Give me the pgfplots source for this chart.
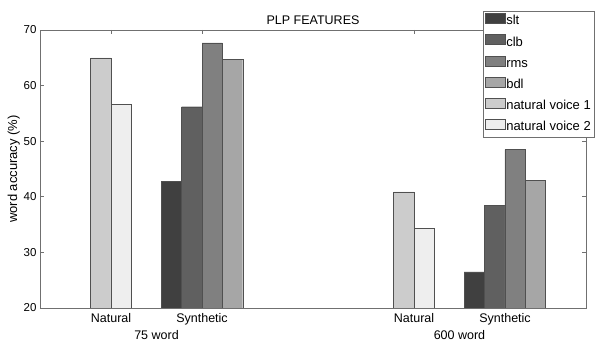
\documentclass[border=0pt]{standalone}
\usepackage{fontspec}
\setmainfont{Liberation Sans}
\usepackage{pgfplots}
\pgfplotsset{compat=1.18}
\definecolor{cslt}{HTML}{404040}
\definecolor{cclb}{HTML}{606060}
\definecolor{crms}{HTML}{808080}
\definecolor{cbdl}{HTML}{A6A6A6}
\definecolor{cnv1}{HTML}{CCCCCC}
\definecolor{cnv2}{HTML}{EEEEEE}
\definecolor{edge}{HTML}{505050}
\definecolor{axc}{HTML}{707070}
\begin{document}
\begin{tikzpicture}
\begin{axis}[
  scale only axis,
  width=546pt, height=278pt,
  xmin=40, xmax=586, ymin=20, ymax=70,
  clip mode=individual,
  ytick={20,30,40,50,60,70},
  xtick={111,202,414,505},
  xticklabels={Natural,Synthetic,Natural,Synthetic},
  tick align=inside,
  major tick length=4pt,
  axis line style={draw=axc, line width=0.6pt},
  tick style={draw=axc, line width=0.6pt},
  /pgf/number format/assume math mode=true,
  yticklabel style={font=\fontsize{11.5}{13}\selectfont},
  xticklabel style={font=\fontsize{12.5}{14}\selectfont, text height=9pt, yshift=-2pt},
  ylabel={word accuracy (\%)},
  ylabel style={font=\fontsize{13}{15}\selectfont, yshift=-3pt},
  title={PLP FEATURES},
  title style={font=\fontsize{12.5}{14}\selectfont, yshift=-4pt},
  legend cell align=left,
  legend style={at={(1.0147,1.068)}, anchor=north east, draw=axc,
    font=\fontsize{13}{15}\selectfont, row sep=5.5pt, inner sep=2pt,
    nodes={inner sep=1pt, text height=9pt, text depth=3pt}},
  legend image code/.code={\draw[#1, draw=edge] (0pt,-1.5pt) rectangle (20pt,8.5pt);},
]
\addplot[ybar, bar width=20.4, bar shift=0pt, fill=cslt, draw=edge] coordinates {(171.3,42.8) (474.2,26.5)};
\addplot[ybar, bar width=20.4, bar shift=0pt, fill=cclb, draw=edge] coordinates {(191.7,56.2) (494.6,38.5)};
\addplot[ybar, bar width=20.4, bar shift=0pt, fill=crms, draw=edge] coordinates {(212.2,67.7) (515.0,48.5)};
\addplot[ybar, bar width=20.4, bar shift=0pt, fill=cbdl, draw=edge] coordinates {(232.5,64.7) (535.4,42.9)};
\addplot[ybar, bar width=20.4, bar shift=0pt, fill=cnv1, draw=edge] coordinates {(100.8,65.0) (403.7,40.9)};
\addplot[ybar, bar width=20.4, bar shift=0pt, fill=cnv2, draw=edge] coordinates {(121.2,56.6) (424.3,34.3)};
\legend{slt,clb,rms,bdl,natural voice 1,natural voice 2}
\node[font=\fontsize{12.5}{14}\selectfont, anchor=south] at (axis cs:156.5,20) [yshift=-35pt] {75 word};
\node[font=\fontsize{12.5}{14}\selectfont, anchor=south] at (axis cs:459.5,20) [yshift=-35pt] {600 word};
\end{axis}
\pgfresetboundingbox
\path[use as bounding box] ([xshift=-40pt,yshift=-36pt]current axis.south west) rectangle ([xshift=9pt,yshift=30pt]current axis.north east);
\end{tikzpicture}
\end{document}
